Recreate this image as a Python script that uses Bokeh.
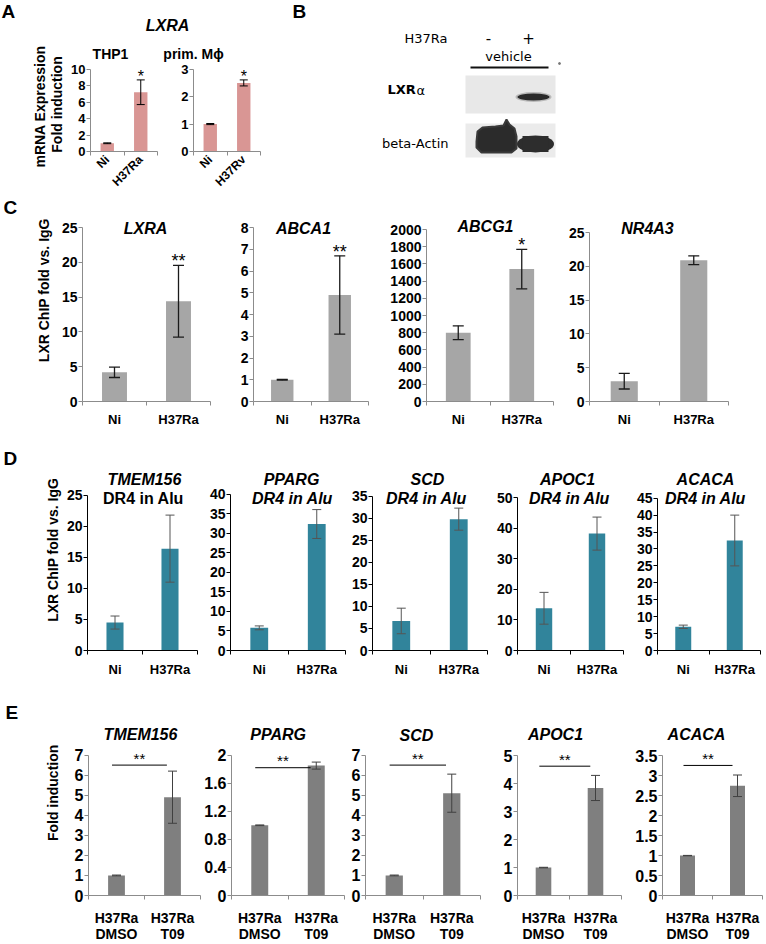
import math
from bokeh.plotting import figure
from bokeh.models import (Range1d, FixedTicker, Label, Whisker, TeeHead,
                          ColumnDataSource)
from bokeh.layouts import row, column
from bokeh.embed import file_html
from bokeh.resources import INLINE

FONT = "Liberation Sans"
BFONT = "DejaVu Sans"

# ------------------------------------------------------------------ data
A_title = "LXRA"
A_ylabel = ["mRNA Expression", "Fold induction"]
A_panels = ["THP1", "prim. Mϕ"]
A_cats = [["Ni", "H37Ra"], ["Ni", "H37Rv"]]
A_vals = [[1.0, 7.2], [1.0, 2.5]]
A_errs = [[0.05, 1.5], [0.02, 0.11]]
A_ymax = [10, 3]
A_step = [2, 1]
A_stars = [["", "*"], ["", "*"]]

B_treat_label = "H37Ra"
B_treat = ["-", "+"]
B_vehicle = "vehicle"
B_rows = ["LXR", "α", "beta-Actin"]

C_ylabel = "LXR ChIP fold vs. IgG"
C_genes = ["LXRA", "ABCA1", "ABCG1", "NR4A3"]
C_cats = ["Ni", "H37Ra"]
C_vals = [[4.2, 14.4], [1.0, 4.9], [800, 1540], [3.0, 20.9]]
C_errs = [[0.75, 5.15], [0.02, 1.8], [80, 230], [1.15, 0.65]]
C_ymax = [25, 8, 2000, 25]
C_step = [5, 1, 200, 5]
C_stars = [["", "**"], ["", "**"], ["", "*"], ["", ""]]

D_ylabel = "LXR ChIP fold vs. IgG"
D_genes = ["TMEM156", "PPARG", "SCD", "APOC1", "ACACA"]
D_sub = "DR4 in Alu"
D_sub_italic = [False, True, True, True, True]
D_cats = ["Ni", "H37Ra"]
D_vals = [[4.5, 16.4], [5.8, 32.4], [6.7, 29.8], [13.8, 38.2], [7.0, 32.5]]
D_errs = [[1.05, 5.4], [0.5, 3.7], [2.9, 2.5], [5.2, 5.4], [0.5, 7.5]]
D_ymax = [25, 40, 35, 50, 45]
D_step = [5, 5, 5, 10, 5]

E_ylabel = "Fold induction"
E_genes = ["TMEM156", "PPARG", "SCD", "APOC1", "ACACA"]
E_cats = ["H37Ra\nDMSO", "H37Ra\nT09"]
E_vals = [[1.0, 4.9], [1.0, 1.85], [1.0, 5.1], [1.0, 3.85], [1.0, 2.75]]
E_errs = [[0.02, 1.3], [0.005, 0.05], [0.02, 0.95], [0.01, 0.45], [0.005, 0.27]]
E_ymax = [7, 2, 7, 5, 3.5]
E_step = [1, 0.4, 1, 1, 0.5]
E_sig_y = [6.5, 1.82, 6.5, 4.63, 3.26]
E_sig_text = "**"

# ------------------------------------------------------------------ helpers
def yticks(ymax, step):
    n = int(round(ymax / step))
    return [round(i * step, 6) for i in range(n + 1)]


def fmt(v):
    return "%g" % v


class Fig:
    """A figure whose canvas and plot frame are given in page pixels."""

    def __init__(self, canvas, frame, xr, yr, axes=True):
        cx0, cy0, cx1, cy1 = canvas
        fl, fr, ft, fb = frame
        self.fl, self.fr, self.ft, self.fb = frame
        self.xr, self.yr = xr, yr
        kw = {}
        if not axes:
            kw = dict(x_axis_type=None, y_axis_type=None)
        p = figure(width=cx1 - cx0, height=cy1 - cy0,
                   x_range=Range1d(*xr), y_range=Range1d(*yr),
                   min_border_left=fl - cx0, min_border_right=cx1 - fr,
                   min_border_top=ft - cy0, min_border_bottom=cy1 - fb,
                   toolbar_location=None, output_backend="svg", **kw)
        p.outline_line_color = None
        p.title.visible = False
        if axes:
            p.xgrid.visible = False
            p.ygrid.visible = False
        self.p = p

    def X(self, rx):
        x0, x1 = self.xr
        return x0 + (rx - self.fl) / (self.fr - self.fl) * (x1 - x0)

    def Y(self, ry):
        y0, y1 = self.yr
        return y0 + (self.fb - ry) / (self.fb - self.ft) * (y1 - y0)

    def label(self, rx, ry, text, size, style="bold", align="center",
              baseline="middle", angle=0.0, font=FONT, color="black"):
        self.p.add_layout(Label(x=self.X(rx), y=self.Y(ry), text=text,
                                text_font=font, text_font_size=f"{size}px",
                                text_font_style=style, text_align=align,
                                text_baseline=baseline, angle=angle,
                                text_color=color))


def canvas_fig(canvas):
    cx0, cy0, cx1, cy1 = canvas
    return Fig(canvas, (cx0, cx1, cy0, cy1), (cx0, cx1), (cy1, cy0), axes=False)


def chart(canvas, area, cats, vals, errs, ymax, step, st, stars=None):
    """area = (axis-left x, axis-right x, top-tick y, zero y) in page pixels.
    The frame is stretched to the canvas top and right so texts drawn there are kept."""
    cx0, cy0, cx1, cy1 = canvas
    pl, pr, pt, pz = area
    n = len(cats)
    xr = (0, n * (cx1 - pl) / (pr - pl))
    yr = (0, ymax * (pz - cy0) / (pz - pt))
    f = Fig(canvas, (pl, cx1, cy0, pz), xr, yr)
    p = f.p
    centers = [i + 0.5 for i in range(n)]
    p.vbar(x=centers, top=vals, width=st["bw"], fill_color=st["bar"], line_color=None)
    up = [v + e for v, e in zip(vals, errs)]
    lo = [v - e for v, e in zip(vals, errs)]
    src = ColumnDataSource(dict(x=centers, up=up, lo=lo))

    def head():
        return TeeHead(size=st["cap"], line_color=st["err"], line_width=st["elw"])

    p.add_layout(Whisker(source=src, base="x", upper="up", lower="lo",
                         line_color=st["err"], line_width=st["elw"],
                         upper_head=head(), lower_head=head(), level="annotation"))
    if stars:
        for c, u, s in zip(centers, up, stars):
            if s:
                p.add_layout(Label(x=c, y=u, text=s, text_align="center",
                                   text_baseline="middle", y_offset=st["star_off"],
                                   text_font=FONT, text_font_size=f"{st['star_size']}px",
                                   text_color="black"))
    # y axis
    ya = p.yaxis[0]
    t = yticks(ymax, step)
    ya.bounds = (0, ymax)
    ya.ticker = FixedTicker(ticks=t, minor_ticks=[])
    ya.major_label_overrides = {v: fmt(v) for v in t}
    ya.major_tick_in = 0
    ya.major_tick_out = 4
    ya.major_label_standoff = 1
    ya.axis_line_color = st["axis"]
    ya.major_tick_line_color = st["axis"]
    ya.major_label_text_font = FONT
    ya.major_label_text_font_style = "bold"
    ya.major_label_text_font_size = f"{st['tick']}px"
    ya.major_label_text_color = "black"
    # x axis
    xa = p.xaxis[0]
    xa.bounds = (0, n)
    xa.ticker = FixedTicker(ticks=centers, minor_ticks=list(range(n + 1)))
    xa.major_label_overrides = {c: lab for c, lab in zip(centers, cats)}
    xa.major_tick_in = 0
    xa.major_tick_out = 0
    xa.minor_tick_in = 0
    xa.minor_tick_out = 4
    xa.minor_tick_line_color = st["axis"]
    xa.axis_line_color = st["axis"]
    xa.major_label_standoff = st["xstand"]
    xa.major_label_text_font = FONT
    xa.major_label_text_font_style = "bold"
    xa.major_label_text_font_size = f"{st['xfont']}px"
    xa.major_label_text_color = "black"
    if st.get("rot"):
        xa.major_label_orientation = math.pi / 4
    if st.get("xlh"):
        xa.major_label_text_line_height = st["xlh"]
    return f


ST_A = dict(bar="#d99694", err="#000000", elw=1, cap=8, bw=0.4, axis="#8c8c8c",
            tick=13, xfont=12, xstand=2, rot=True, star_off=3, star_size=16)
ST_C = dict(bar="#a6a6a6", err="#1a1a1a", elw=1.3, cap=11, bw=0.39, axis="#8c8c8c",
            tick=14, xfont=13, xstand=6, star_off=4, star_size=18)
ST_D = dict(bar="#31849b", err="#555555", elw=1, cap=9, bw=0.31, axis="#000000",
            tick=14, xfont=13, xstand=7, star_off=8, star_size=16)
ST_E = dict(bar="#7f7f7f", err="#404040", elw=1, cap=9, bw=0.3, axis="#8c8c8c",
            tick=16, xfont=14, xstand=10, xlh=1.0, star_off=3, star_size=15)

# ------------------------------------------------------------------ band 1 : A + B
AY = canvas_fig((0, 0, 64, 196))
AY.label(1, 11, "A", 19, align="left")
AY.label(39, 106, A_ylabel[0], 14, angle=math.pi / 2)
AY.label(56, 104, A_ylabel[1], 14, angle=math.pi / 2)

hdrA = canvas_fig((64, 0, 270, 62))
hdrA.label(167, 25, A_title, 16, style="bold italic")
A_tpos = [(110, 53), (193, 53)]
for i in range(2):
    hdrA.label(A_tpos[i][0], A_tpos[i][1], A_panels[i], 14)

A_geo = [((64, 62, 160, 196), (90, 157, 69, 155)),
         ((160, 62, 270, 196), (193, 260, 69, 155))]
A_figs = []
for i in range(2):
    f = chart(A_geo[i][0], A_geo[i][1], A_cats[i], A_vals[i], A_errs[i],
              A_ymax[i], A_step[i], ST_A, stars=A_stars[i])
    A_figs.append(f)

B = canvas_fig((270, 0, 766, 196))
pb = B.p
B.label(292, 11, "B", 19, align="left")
B.label(447, 38, B_treat_label, 13, style="normal", align="right", font=BFONT)
B_treat_x = [488, 528]
for tx, tt in zip(B_treat_x, B_treat):
    B.label(tx, 37, tt, 15, style="normal", font=BFONT)
B.label(508, 56, B_vehicle, 13, style="normal", font=BFONT)
pb.segment(x0=[470], y0=[67], x1=[548], y1=[67], line_color="#111111", line_width=2)
pb.scatter(x=[559], y=[63], size=2, color="#777777")
# blot backgrounds
blot_l = [465, 465]
blot_r = [555, 555]
blot_t = [75, 123]
blot_b = [113, 157]
pb.quad(left=blot_l, right=blot_r, top=blot_t, bottom=blot_b,
        fill_color=["#e8e8e8", "#ebebeb"], line_color=None)
# LXRa band (+ lane)
pb.ellipse(x=[533], y=[96.5], width=[36], height=[10], fill_color="#8a8a8a",
           fill_alpha=0.5, line_color=None)
pb.ellipse(x=[533], y=[96.5], width=[32], height=[7], fill_color="#2a2a2a", line_color=None)
# beta-actin bands
left_blob_x = [476, 477, 482, 495, 503, 506, 509, 514, 516, 516, 511, 481, 476]
left_blob_y = [141, 131, 127, 126, 125, 119, 124, 128, 136, 148, 152, 152, 147]
pb.patch(x=left_blob_x, y=left_blob_y, fill_color="#2b2b2b", line_color="#3a3a3a", line_width=2)
pb.ellipse(x=[535], y=[143.5], width=[37], height=[17], fill_color="#2d2d2d", line_color=None)
pb.quad(left=[522], right=[548], top=[135.5], bottom=[151.5], fill_color="#2d2d2d", line_color=None)
B.label(387, 89, B_rows[0], 13, style="bold", align="left", font=BFONT)
B.label(416, 90, B_rows[1], 13, style="normal", align="left", font=BFONT)
B.label(448, 143, B_rows[2], 13, style="normal", align="right", font=BFONT)

band1 = row(AY.p, column(hdrA.p, row(A_figs[0].p, A_figs[1].p)), B.p)

# ------------------------------------------------------------------ band 2 : C
hdrC = canvas_fig((0, 196, 766, 218))
hdrC.label(3, 207, "C", 19, align="left")
CY = canvas_fig((0, 218, 58, 440))
CY.label(43, 305, C_ylabel, 14, angle=math.pi / 2)
C_geo = [((58, 218, 215, 440), (82, 210, 227, 401)),
         ((215, 218, 385, 440), (253, 368, 227, 401)),
         ((385, 218, 560, 440), (426, 553, 229, 401)),
         ((560, 218, 766, 440), (589, 728, 232, 401))]
C_tpos = [(145, 228), (303, 228), (485, 226), (647, 228)]
C_figs = []
for i in range(4):
    f = chart(C_geo[i][0], C_geo[i][1], C_cats, C_vals[i], C_errs[i],
              C_ymax[i], C_step[i], ST_C, stars=C_stars[i])
    f.label(C_tpos[i][0], C_tpos[i][1], C_genes[i], 16, style="bold italic")
    C_figs.append(f)
band2 = column(hdrC.p, row(CY.p, *[f.p for f in C_figs]))

# ------------------------------------------------------------------ band 3 : D
hdrD = canvas_fig((0, 440, 766, 470))
hdrD.label(3, 458, "D", 19, align="left")
DY = canvas_fig((0, 470, 62, 690))
DY.label(52, 567, D_ylabel, 14, angle=math.pi / 2)
D_geo = [((62, 470, 200, 690), (87, 197, 495, 652)),
         ((200, 470, 348, 690), (230, 345, 494, 651)),
         ((348, 470, 490, 690), (372, 487, 496, 652)),
         ((490, 470, 628, 690), (517, 623, 497, 650)),
         ((628, 470, 766, 690), (657, 760, 498, 652))]
D_t1 = [144, 291, 427, 567, 705]
D_t2 = [143, 292, 426, 569, 705]
D_figs = []
for i in range(5):
    f = chart(D_geo[i][0], D_geo[i][1], D_cats, D_vals[i], D_errs[i],
              D_ymax[i], D_step[i], ST_D)
    f.label(D_t1[i], 479, D_genes[i], 16, style="bold italic")
    f.label(D_t2[i], 498, D_sub, 16, style="bold italic" if D_sub_italic[i] else "bold")
    D_figs.append(f)
band3 = column(hdrD.p, row(DY.p, *[f.p for f in D_figs]))

# ------------------------------------------------------------------ band 4 : E
hdrE = canvas_fig((0, 690, 766, 724))
hdrE.label(5, 712, "E", 19, align="left")
EY = canvas_fig((0, 724, 62, 944))
EY.label(52, 812, E_ylabel, 14, angle=math.pi / 2)
E_geo = [((62, 724, 201, 944), (88, 200, 756, 903)),
         ((201, 724, 346, 944), (230, 344, 756, 903)),
         ((346, 724, 495, 944), (365, 480, 756, 903)),
         ((495, 724, 632, 944), (517, 621, 757, 904)),
         ((632, 724, 766, 944), (662, 762, 757, 904))]
E_tx = [140, 277, 416, 555, 696]
E_ty = [734, 734, 735, 735, 735]
E_sig_x0 = 0.42
E_sig_x1 = 1.4
E_figs = []
for i in range(5):
    f = chart(E_geo[i][0], E_geo[i][1], E_cats, E_vals[i], E_errs[i],
              E_ymax[i], E_step[i], ST_E)
    f.p.segment(x0=[E_sig_x0], y0=[E_sig_y[i]], x1=[E_sig_x1], y1=[E_sig_y[i]],
                line_color="black", line_width=1)
    f.p.add_layout(Label(x=(E_sig_x0 + E_sig_x1) / 2, y=E_sig_y[i], text=E_sig_text,
                         text_align="center", text_baseline="middle",
                         y_offset=ST_E["star_off"] + 4, text_font=FONT,
                         text_font_size=f"{ST_E['star_size']}px", text_color="black"))
    f.label(E_tx[i], E_ty[i], E_genes[i], 16, style="bold italic")
    E_figs.append(f)
band4 = column(hdrE.p, row(EY.p, *[f.p for f in E_figs]))

layout = column(band1, band2, band3, band4)

with open("out.html", "w") as fh:
    fh.write(file_html(layout, INLINE))
